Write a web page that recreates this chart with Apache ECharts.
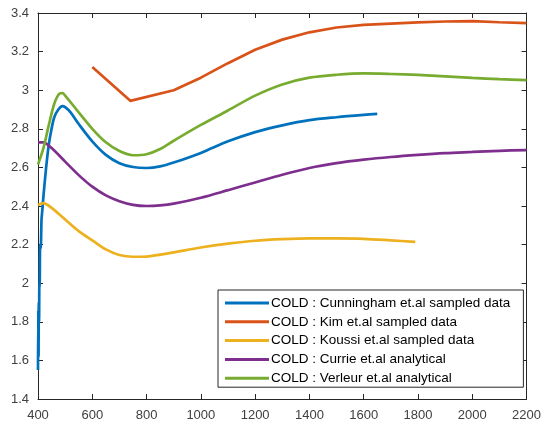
<!DOCTYPE html>
<html>
<head>
<meta charset="utf-8">
<script src="https://cdn.jsdelivr.net/npm/echarts@6/dist/echarts.min.js"></script>
<style>
  html, body { margin: 0; padding: 0; background: #fff; }
  #chart { width: 544px; height: 428px; }
</style>
</head>
<body>
<div id="chart"></div>
<script>
// Wavelength (x) vs. index (y) curves, one [x, y] list per source
const seriesNames = [
  'COLD : Cunningham et.al sampled data',
  'COLD : Kim et.al sampled data',
  'COLD : Koussi et.al sampled data',
  'COLD : Currie et.al analytical',
  'COLD : Verleur et.al analytical'
];
const seriesColors = ['#0072BD', '#D95319', '#EDB120', '#7E2F8E', '#77AC30'];

const cunningham = [
  [400, 1.55], [401, 1.86], [402, 1.62], [403, 1.9], [404, 1.8], [405, 2.0],
  [406, 1.98], [408, 2.2], [410, 2.18], [413, 2.33], [416, 2.38], [420, 2.45],
  [430, 2.6], [440, 2.72], [450, 2.8], [460, 2.86], [475, 2.9], [490, 2.917],
  [500, 2.912], [520, 2.885], [550, 2.825], [600, 2.735], [650, 2.665],
  [700, 2.622], [750, 2.602], [800, 2.597], [850, 2.605], [900, 2.625],
  [1000, 2.675], [1100, 2.735], [1200, 2.783], [1300, 2.818], [1400, 2.845],
  [1500, 2.86], [1600, 2.872], [1650, 2.877]
];
const kim = [
  [600, 3.12], [740, 2.945], [900, 3.0], [1000, 3.065], [1100, 3.14],
  [1200, 3.21], [1300, 3.262], [1400, 3.3], [1500, 3.325], [1600, 3.338],
  [1700, 3.345], [1800, 3.351], [1900, 3.356], [2000, 3.358], [2100, 3.352],
  [2200, 3.348]
];
const koussi = [
  [400, 2.405], [420, 2.415], [450, 2.39], [500, 2.33], [550, 2.27],
  [600, 2.222], [650, 2.175], [700, 2.146], [750, 2.137], [800, 2.138],
  [850, 2.148], [900, 2.16], [1000, 2.185], [1100, 2.205], [1200, 2.22],
  [1300, 2.228], [1400, 2.232], [1500, 2.232], [1600, 2.23], [1700, 2.222],
  [1790, 2.214]
];
const currie = [
  [400, 2.73], [420, 2.73], [450, 2.7], [500, 2.63], [550, 2.56],
  [600, 2.5], [650, 2.455], [700, 2.425], [750, 2.406], [800, 2.4],
  [850, 2.403], [900, 2.412], [1000, 2.443], [1100, 2.482], [1200, 2.522],
  [1300, 2.562], [1400, 2.597], [1500, 2.622], [1600, 2.64], [1700, 2.654],
  [1800, 2.665], [1900, 2.674], [2000, 2.68], [2100, 2.686], [2200, 2.69]
];
const verleur = [
  [400, 2.615], [420, 2.7], [440, 2.82], [460, 2.93], [480, 2.983],
  [490, 2.985], [500, 2.972], [550, 2.885], [600, 2.8], [650, 2.73],
  [700, 2.685], [750, 2.663], [800, 2.668], [850, 2.695], [900, 2.738],
  [1000, 2.82], [1100, 2.895], [1200, 2.972], [1300, 3.03], [1400, 3.065],
  [1500, 3.08], [1600, 3.087], [1700, 3.084], [1800, 3.079], [1900, 3.072],
  [2000, 3.064], [2100, 3.057], [2200, 3.052]
];
const allData = [cunningham, kim, koussi, currie, verleur];

const xTicks = { min: 400, max: 2200, step: 200 };
const yTicks = { min: 1.4, max: 3.4, step: 0.2 };

const axisColor = '#262626';
const labelColor = '#404040';
const font = 'Liberation Sans, Arial, sans-serif';

const chart = echarts.init(document.getElementById('chart'), null, { renderer: 'canvas' });

function frameAxis(extra) {
  return Object.assign({
    type: 'value',
    axisLine: { show: true, onZero: false, lineStyle: { color: axisColor, width: 1 } },
    axisTick: { show: true, inside: true, length: 5, lineStyle: { color: axisColor } },
    splitLine: { show: false }
  }, extra);
}

const option = {
  backgroundColor: '#ffffff',
  animation: false,
  grid: { left: 38, right: 16, top: 13, bottom: 29, containLabel: false },
  xAxis: [
    frameAxis({
      min: xTicks.min, max: xTicks.max, interval: xTicks.step,
      axisLabel: {
        color: labelColor, fontFamily: font, fontSize: 13, margin: 10,
        formatter: v => String(Math.round(v))
      }
    }),
    frameAxis({
      position: 'top', min: xTicks.min, max: xTicks.max, interval: xTicks.step,
      axisLabel: { show: false }
    })
  ],
  yAxis: [
    frameAxis({
      min: yTicks.min, max: yTicks.max, interval: yTicks.step,
      axisLabel: {
        color: labelColor, fontFamily: font, fontSize: 13, margin: 9,
        formatter: v => String(Math.round(v * 10) / 10)
      }
    }),
    frameAxis({
      position: 'right', min: yTicks.min, max: yTicks.max, interval: yTicks.step,
      axisLabel: { show: false }
    })
  ],
  legend: {
    orient: 'vertical',
    left: 218, top: 290,
    padding: [6, 13, 2, 7],
    backgroundColor: '#ffffff',
    borderColor: axisColor,
    borderWidth: 1,
    borderRadius: 0,
    itemWidth: 44,
    itemHeight: 3,
    itemGap: 4.8,
    icon: 'rect',
    textStyle: { color: '#000', fontFamily: font, fontSize: 13.5, padding: [0, 0, 0, -3], lineHeight: 14 },
    data: seriesNames
  },
  series: allData.map((d, i) => ({
    name: seriesNames[i],
    type: 'line',
    data: d,
    xAxisIndex: 0,
    yAxisIndex: 0,
    showSymbol: false,
    smooth: i === 1 ? false : 0.3,
    lineStyle: { color: seriesColors[i], width: 2.7 },
    itemStyle: { color: seriesColors[i] },
    clip: true
  }))
};

chart.setOption(option);
</script>
</body>
</html>
